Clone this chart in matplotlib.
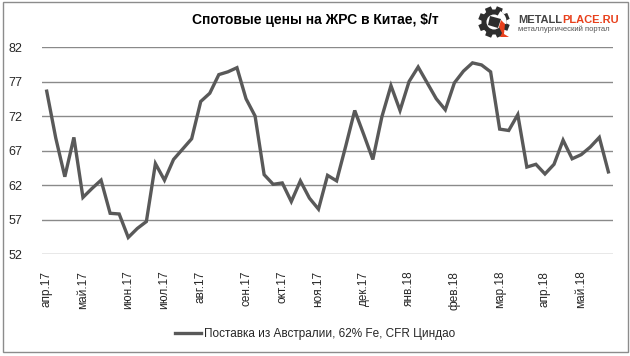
import numpy as np
import matplotlib
matplotlib.use("Agg")
import matplotlib.pyplot as plt
from matplotlib.patches import Rectangle, Circle, Wedge, Polygon

# ---- data ----
values = [75.6, 68.8, 63.2, 68.9, 60.2, 61.5, 62.7, 57.9, 57.8, 54.4,
          55.7, 56.7, 65.1, 62.7, 65.7, 67.2, 68.7, 74.1, 75.3, 78.0,
          78.4, 79.0, 74.5, 72.0, 63.5, 62.1, 62.3, 59.6, 62.6, 60.1,
          58.5, 63.4, 62.6, 67.6, 72.8, 69.3, 65.7, 71.9, 76.4, 72.8,
          77.0, 79.1, 76.8, 74.5, 72.9, 76.8, 78.5, 79.7, 79.4, 78.4,
          70.1, 69.9, 72.2, 64.6, 65.0, 63.6, 65.0, 68.5, 65.8, 66.4,
          67.5, 68.9, 63.9]
tick_pos = [0, 4, 9, 13, 17, 22, 26, 30, 35, 40, 45, 50, 55, 59]
tick_labels = ["апр.17", "май.17", "июн.17", "июл.17", "авг.17", "сен.17",
               "окт.17", "ноя.17", "дек.17", "янв.18", "фев.18", "мар.18",
               "апр.18", "май.18"]
y_ticks = [52, 57, 62, 67, 72, 77, 82]
series_name = "Поставка из Австралии, 62% Fe, CFR Циндао"
title = "Спотовые цены на ЖРС в Китае, $/т"

plt.rcParams['font.family'] = ['Liberation Sans', 'DejaVu Sans']

W, H = 630, 356
fig = plt.figure(figsize=(W / 100, H / 100), dpi=100)
fig.patch.set_facecolor('white')

# outer border
fig.add_artist(Rectangle((3 / W, 4 / H), 625 / W, 350 / H, transform=fig.transFigure,
                         fill=False, edgecolor='#8c8c8c', linewidth=1.0))

ax = fig.add_axes([42 / W, (H - 254) / H, 571 / W, 207 / H])
x = np.arange(len(values))
line_color = '#595959'
ax.plot(x, values, color=line_color, linewidth=2.4, solid_joinstyle='miter',
        label=series_name, zorder=3)
ax.set_xlim(-0.52, len(values) - 1 + 0.51)
ax.set_ylim(52, 82)
ax.set_yticks(y_ticks)
ax.set_yticklabels([str(v) for v in y_ticks], fontsize=9, color='#262626')
ax.set_xticks(tick_pos)
ax.set_xticklabels(tick_labels, rotation=90, fontsize=8.5, color='#262626',
                   va='top', ha='center')
ax.tick_params(axis='both', length=0)
ax.tick_params(axis='x', pad=12)
ax.tick_params(axis='y', pad=14)
for s in ax.spines.values():
    s.set_visible(False)
ax.grid(axis='y', color='#8a8a8a', linewidth=1.0)
ax.set_axisbelow(True)

# title
fig.text(315 / W, 1 - 20 / H, title, ha='center', va='center', fontsize=10,
         fontweight='bold', color='black')

# legend
leg = fig.legend(loc='center', bbox_to_anchor=(315 / W, 1 - 334 / H), frameon=False,
                 fontsize=8.5, handlelength=2.2, handletextpad=0.3)
for t in leg.get_texts():
    t.set_color('#262626')

# logo (drawn in its own pixel-coordinate axes)
lx0, ly0, lw, lh = 474, 4, 42, 36
lax = fig.add_axes([lx0 / W, 1 - (ly0 + lh) / H, lw / W, lh / H])
lax.set_xlim(0, lw)
lax.set_ylim(lh, 0)
lax.axis('off')
cx, cy = 20, 18
gear_dark = '#2e2e2e'
for k in range(8):
    a = np.deg2rad(k * 45 + 22)
    pts = []
    for r, d in [(11, -0.32), (16, -0.2), (16, 0.2), (11, 0.32)]:
        pts.append((cx + r * np.cos(a + d), cy + r * np.sin(a + d)))
    lax.add_patch(Polygon(pts, closed=True, facecolor=gear_dark, edgecolor='none'))
lax.add_patch(Circle((cx, cy), 12.5, facecolor=gear_dark, edgecolor='none'))
lax.add_patch(Circle((cx, cy), 7.5, facecolor='white', edgecolor='none'))
lax.add_patch(Wedge((cx, cy), 12.6, -60, 10, facecolor='white', edgecolor='none'))
lax.add_patch(Polygon([(cx - 4, cy - 6), (cx + 7, cy - 3), (cx + 4, cy + 6), (cx - 6, cy + 3)],
                      closed=True, facecolor=gear_dark, edgecolor='none'))
lax.add_patch(Polygon([(cx + 7, cy - 2), (cx + 11, cy + 2), (cx + 10, cy + 12),
                       (cx + 15, cy + 15), (cx + 6, cy + 15), (cx + 8, cy + 11),
                       (cx + 5, cy + 5)],
                      closed=True, facecolor='#e8401c', edgecolor='none'))

t1 = fig.text(518 / W, 1 - 20 / H, "METALL", ha='left', va='center', fontsize=8,
              fontweight='bold', color='#444444')
fig.canvas.draw()
bb = t1.get_window_extent(renderer=fig.canvas.get_renderer())
fig.text(bb.x1 / W, 1 - 20 / H, "PLACE.RU", ha='left', va='center', fontsize=8,
         fontweight='bold', color='#e8401c')
fig.text(518 / W, 1 - 29 / H, "металлургический портал", ha='left', va='center',
         fontsize=5.5, color='#555555')

fig.savefig("out.png", dpi=100, facecolor='white')
